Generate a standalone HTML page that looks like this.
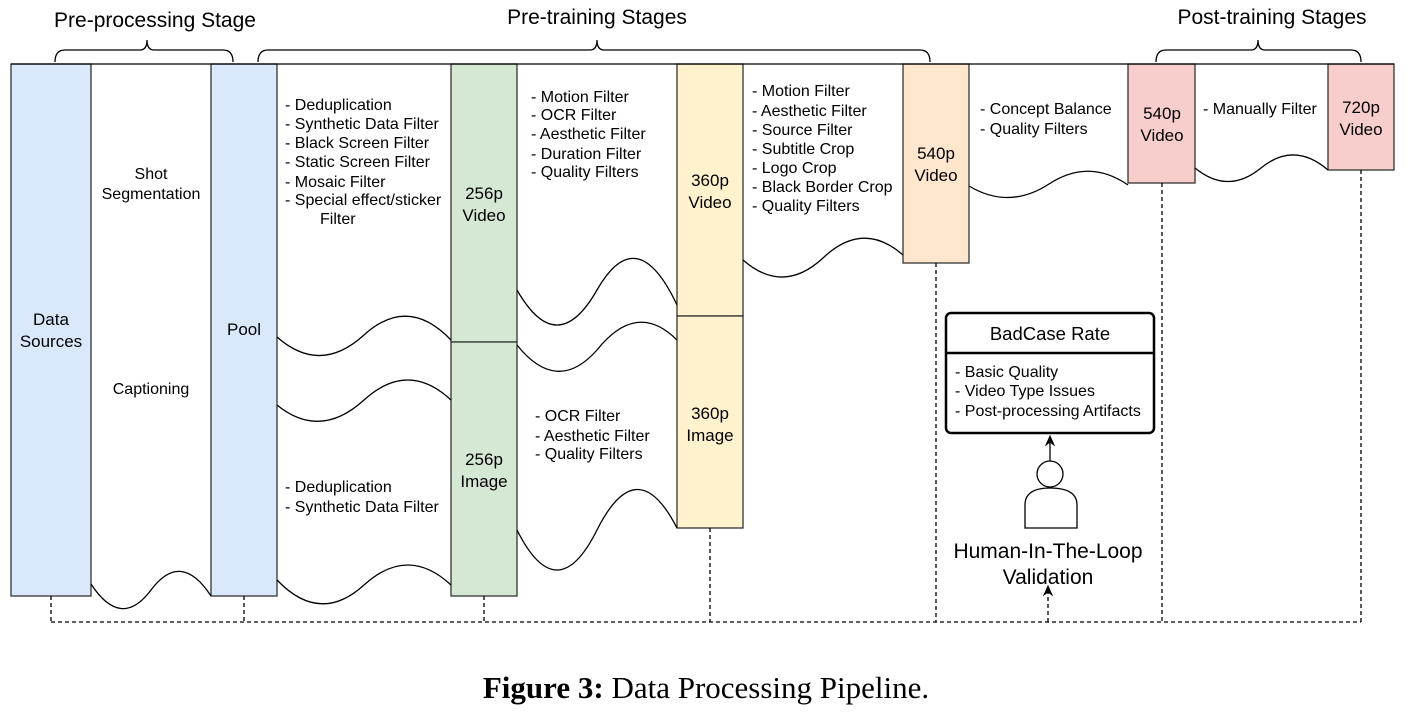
<!DOCTYPE html>
<html><head><meta charset="utf-8"><style>
html,body{margin:0;padding:0;background:#fff;}
svg{display:block;}
text{font-family:"Liberation Sans",Arial,sans-serif;fill:#000;}
.l{font-size:16px;}
.b{font-size:17px;text-anchor:middle;}
.t{font-size:21px;text-anchor:middle;}
</style></head><body>
<svg width="1412" height="712" viewBox="0 0 1412 712" xmlns="http://www.w3.org/2000/svg">
<defs><marker id="ar" markerWidth="10" markerHeight="10" refX="5" refY="5" orient="auto"><path d="M0,1 L9,5 L0,9 L3,5 Z" fill="#000"/></marker></defs>
<g fill="none" stroke="#000" stroke-width="1.3">
<path d="M55,62 Q55,50 65,50 L140,50 Q147,50 147,40 Q147,50 154,50 L223,50 Q233,50 233,62"/>
<path d="M258,62 Q258,50 268,50 L590,50 Q597,50 597,40 Q597,50 604,50 L920,50 Q930,50 930,62"/>
<path d="M1156,62 Q1156,50 1166,50 L1251,50 Q1258,50 1258,40 Q1258,50 1265,50 L1351,50 Q1361,50 1361,62"/>
</g>
<g stroke="#333" stroke-width="1.3">
<rect x="11" y="64" width="80" height="532" fill="#dae8fc"/>
<rect x="211" y="64" width="66" height="532" fill="#dae8fc"/>
<rect x="451" y="64" width="66" height="278" fill="#d5e8d4"/>
<rect x="451" y="342" width="66" height="254" fill="#d5e8d4"/>
<rect x="677" y="64" width="66" height="252" fill="#fff2cc"/>
<rect x="677" y="316" width="66" height="212" fill="#fff2cc"/>
<rect x="903" y="64" width="66" height="199" fill="#ffe6cc"/>
<rect x="1128" y="64" width="67" height="119" fill="#f8cecc"/>
<rect x="1328" y="64" width="66" height="106" fill="#f8cecc"/>
</g>
<g fill="none" stroke="#000" stroke-width="1.3">
<line x1="11" y1="64" x2="1394" y2="64"/>
<path d="M91,584 Q121,630 151,590 Q181,550 211,596"/>
<path d="M277,337 Q320,375 364,335 Q408,295 451,340"/>
<path d="M277,405 Q320,440 364,400 Q408,360 451,400"/>
<path d="M277,580 Q320,625 364,585 Q408,545 451,585"/>
<path d="M517,290 Q557,360 597,290 Q637,220 677,305"/>
<path d="M517,345 Q557,395 597,350 Q637,300 677,340"/>
<path d="M517,530 Q557,610 597,530 Q637,450 677,528"/>
<path d="M743,260 Q783,295 823,258 Q863,220 903,255"/>
<path d="M969,186 Q1009,210 1049,184 Q1089,158 1128,185"/>
<path d="M1195,168 Q1228,195 1261,168 Q1294,141 1328,170"/>
</g>
<g fill="none" stroke="#000" stroke-width="1.3" stroke-dasharray="4,3">
<line x1="51" y1="596" x2="51" y2="622"/>
<line x1="244" y1="596" x2="244" y2="622"/>
<line x1="484" y1="596" x2="484" y2="622"/>
<line x1="710" y1="528" x2="710" y2="622"/>
<line x1="936" y1="263" x2="936" y2="622"/>
<line x1="1162" y1="183" x2="1162" y2="622"/>
<line x1="1361" y1="170" x2="1361" y2="622"/>
<line x1="51" y1="622" x2="1361" y2="622"/>
<line x1="1048" y1="622" x2="1048" y2="590" marker-end="url(#ar)"/>
</g>
<rect x="946" y="313" width="208" height="120" rx="5" fill="#fff" stroke="#000" stroke-width="2.5"/>
<line x1="946" y1="353" x2="1154" y2="353" stroke="#000" stroke-width="2.5"/>
<line x1="1050" y1="462" x2="1050" y2="440" stroke="#000" stroke-width="1.3" marker-end="url(#ar)"/>
<circle cx="1050" cy="474" r="13" fill="#fff" stroke="#000" stroke-width="1.3"/>
<path d="M1025,528 L1025,505 Q1025,488 1050,488 Q1077,488 1077,505 L1077,528 Z" fill="#fff" stroke="#000" stroke-width="1.3"/>
<text class="t" x="155" y="27">Pre-processing Stage</text>
<text class="t" x="597" y="24">Pre-training Stages</text>
<text class="t" x="1272" y="24">Post-training Stages</text>
<text class="b" x="51" y="325">Data</text><text class="b" x="51" y="347">Sources</text>
<text class="b" x="244" y="335">Pool</text>
<text class="b" x="484" y="199">256p</text><text class="b" x="484" y="221">Video</text>
<text class="b" x="484" y="465">256p</text><text class="b" x="484" y="487">Image</text>
<text class="b" x="710" y="186">360p</text><text class="b" x="710" y="208">Video</text>
<text class="b" x="710" y="419">360p</text><text class="b" x="710" y="441">Image</text>
<text class="b" x="936" y="159">540p</text><text class="b" x="936" y="181">Video</text>
<text class="b" x="1162" y="119">540p</text><text class="b" x="1162" y="141">Video</text>
<text class="b" x="1361" y="113">720p</text><text class="b" x="1361" y="135">Video</text>
<g class="l">
<text x="151" y="179" text-anchor="middle">Shot</text>
<text x="151" y="199" text-anchor="middle">Segmentation</text>
<text x="151" y="394" text-anchor="middle">Captioning</text>
<text x="285" y="110">- Deduplication</text>
<text x="285" y="129">- Synthetic Data Filter</text>
<text x="285" y="148">- Black Screen Filter</text>
<text x="285" y="167">- Static Screen Filter</text>
<text x="285" y="187">- Mosaic Filter</text>
<text x="285" y="205">- Special effect/sticker</text>
<text x="320" y="224">Filter</text>
<text x="285" y="492">- Deduplication</text>
<text x="285" y="512">- Synthetic Data Filter</text>
<text x="531" y="102">- Motion Filter</text>
<text x="531" y="120">- OCR Filter</text>
<text x="531" y="139">- Aesthetic Filter</text>
<text x="531" y="159">- Duration Filter</text>
<text x="531" y="177">- Quality Filters</text>
<text x="535" y="421">- OCR Filter</text>
<text x="535" y="441">- Aesthetic Filter</text>
<text x="535" y="459">- Quality Filters</text>
<text x="752" y="96">- Motion Filter</text>
<text x="752" y="116">- Aesthetic Filter</text>
<text x="752" y="135">- Source Filter</text>
<text x="752" y="154">- Subtitle Crop</text>
<text x="752" y="173">- Logo Crop</text>
<text x="752" y="192">- Black Border Crop</text>
<text x="752" y="211">- Quality Filters</text>
<text x="980" y="114">- Concept Balance</text>
<text x="980" y="134">- Quality Filters</text>
<text x="1203" y="114">- Manually Filter</text>
<text x="955" y="377">- Basic Quality</text>
<text x="955" y="396">- Video Type Issues</text>
<text x="955" y="416">- Post-processing Artifacts</text>
</g>
<text x="1050" y="340" style="font-size:18.5px" text-anchor="middle">BadCase Rate</text>
<text x="1048" y="558" style="font-size:21px" text-anchor="middle">Human-In-The-Loop</text>
<text x="1048" y="584" style="font-size:21px" text-anchor="middle">Validation</text>
<text x="706" y="698" text-anchor="middle" style="font-family:'Liberation Serif',serif;font-size:31px"><tspan font-weight="bold">Figure 3:</tspan> Data Processing Pipeline.</text>
</svg>
</body></html>
